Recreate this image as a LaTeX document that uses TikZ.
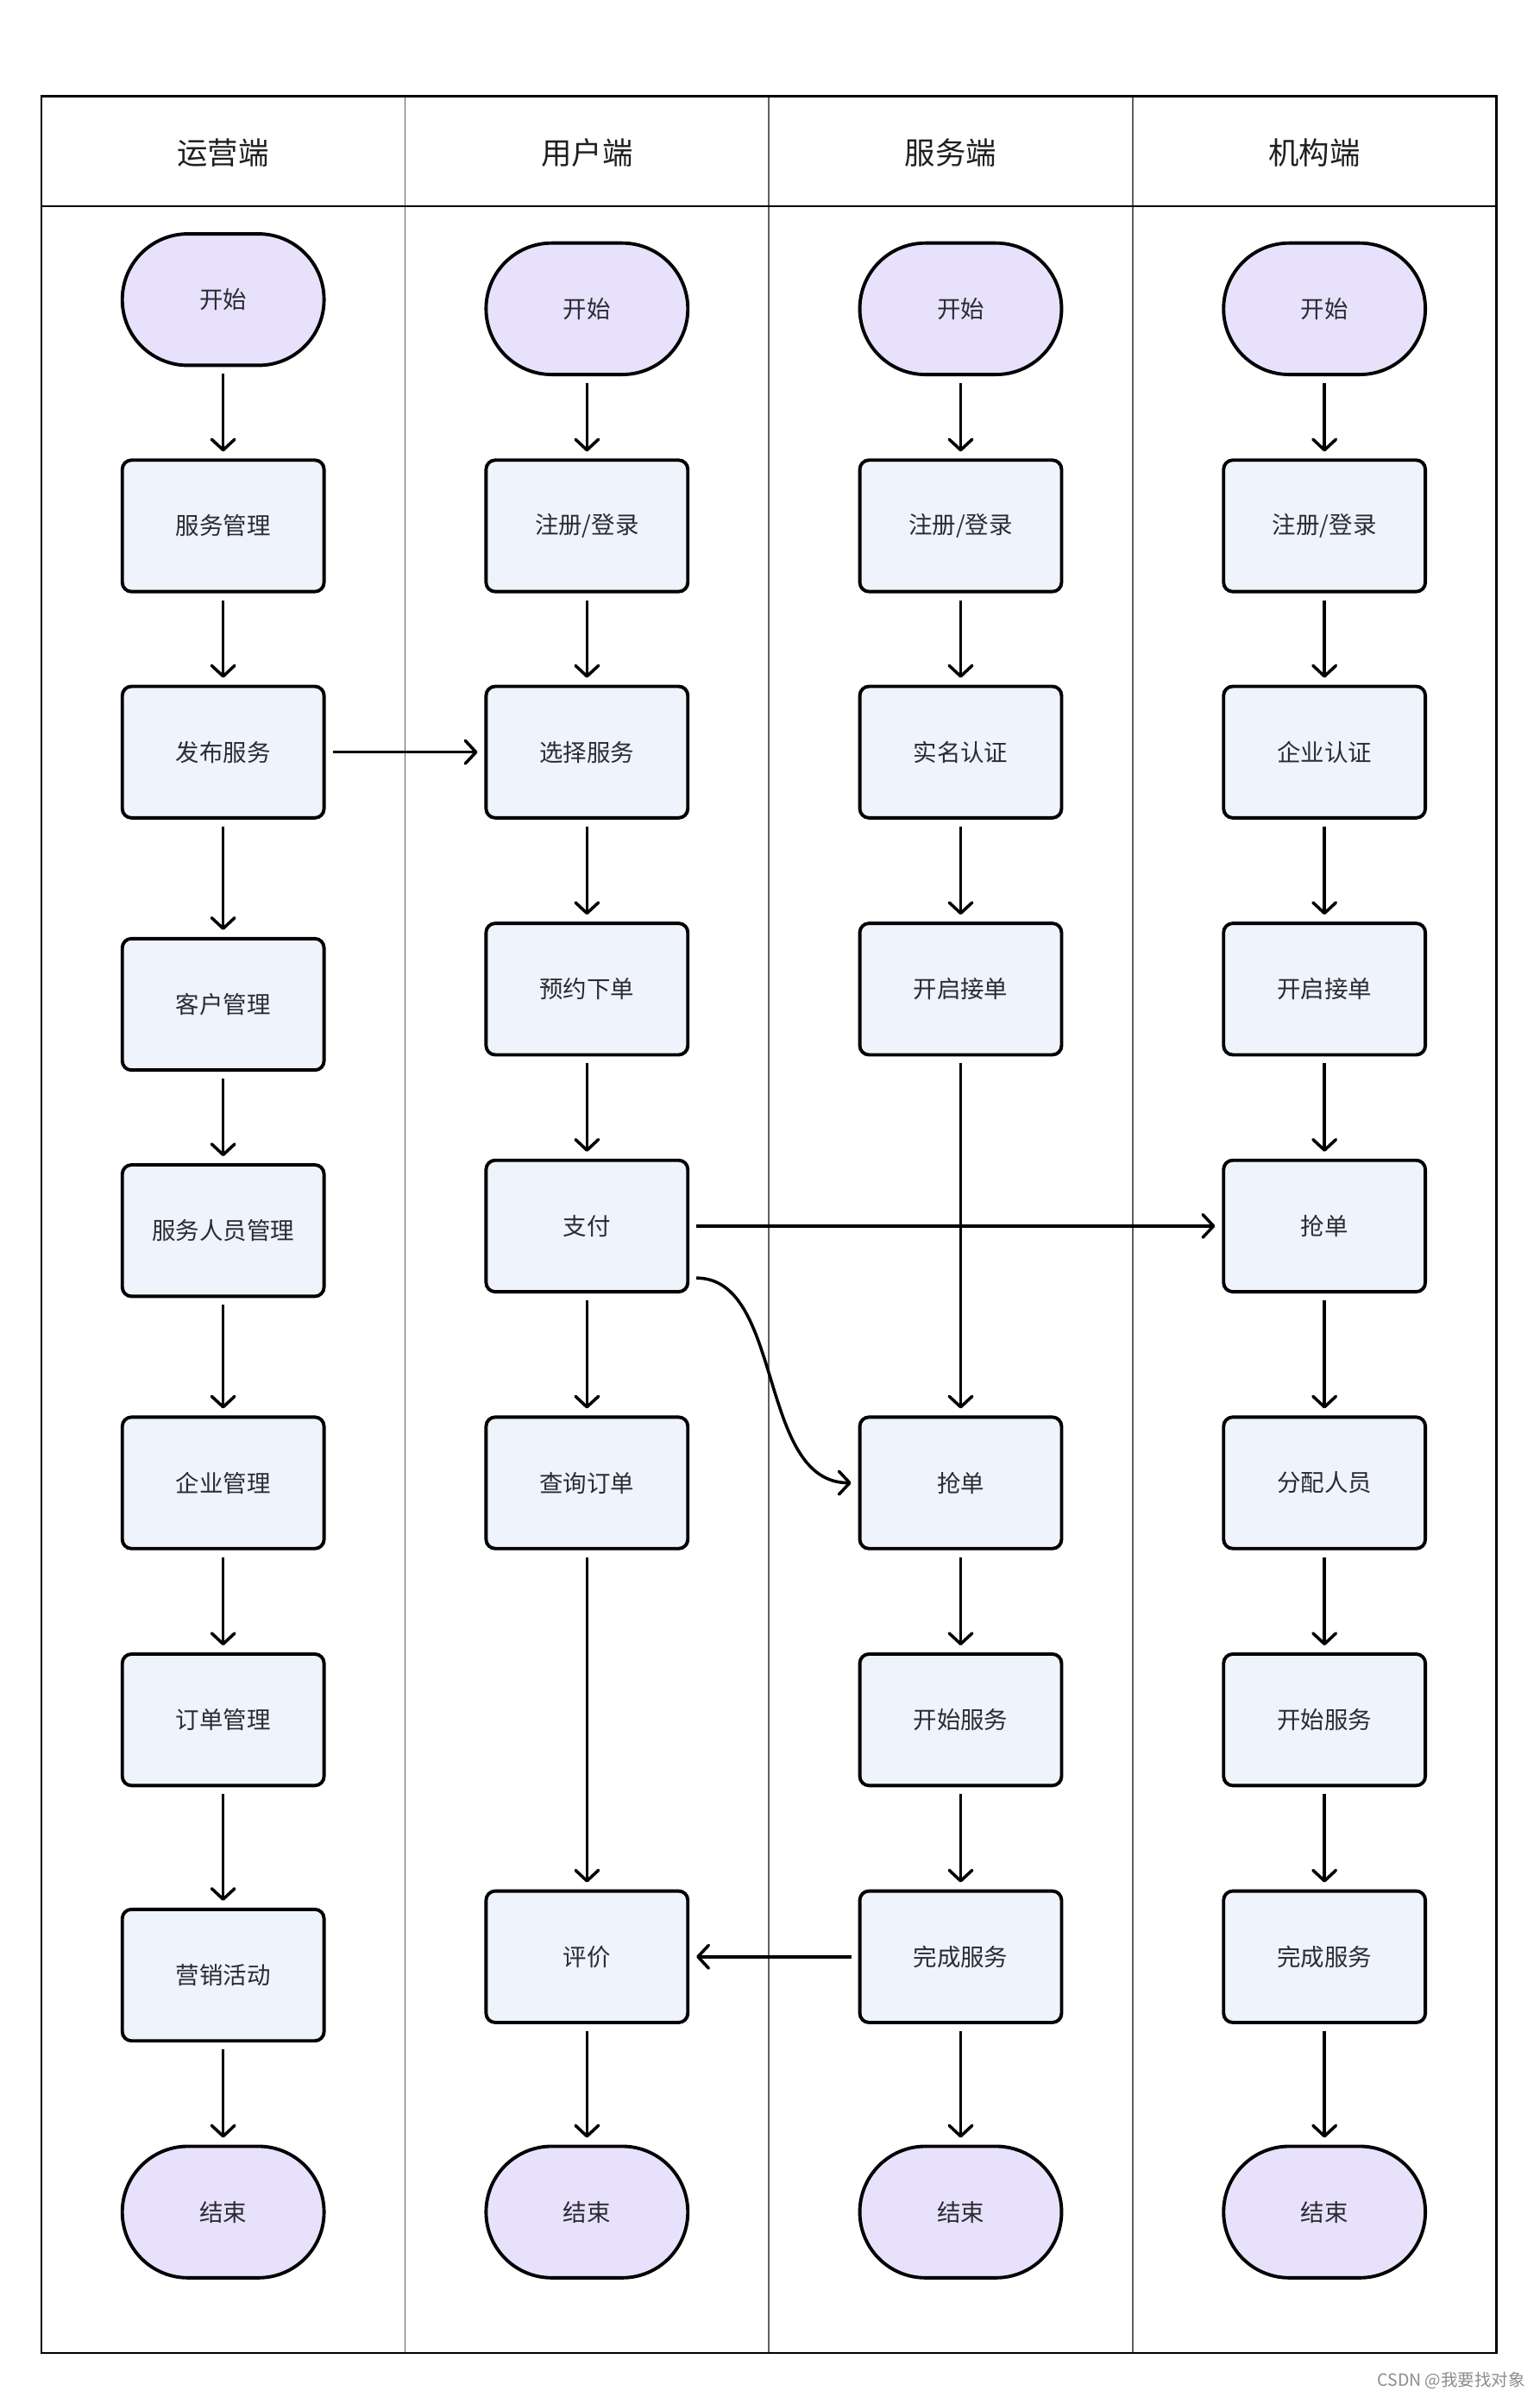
\documentclass[tikz,border=0pt]{standalone}
\usepackage{fontspec}
\newfontfamily\cjk{Noto Sans CJK SC}
\usetikzlibrary{arrows.meta}
\definecolor{termfill}{HTML}{E8E1FC}
\definecolor{boxfill}{HTML}{EEF3FC}
\definecolor{txt}{HTML}{2B2B33}
\definecolor{lanegray}{HTML}{606060}
\tikzset{
  proc/.style={draw=black, line width=2.2pt, fill=boxfill, rounded corners=6pt,
    minimum width=132pt, minimum height=86pt, inner sep=0pt, text=txt,
    font=\cjk\fontsize{15.5}{18}\selectfont},
  term/.style={proc, fill=termfill, rounded corners=42.9pt},
  lanehead/.style={inner sep=0pt, text=black!88, font=\cjk\fontsize{20}{24}\selectfont},
  arr/.style={line width=2pt, -{Straight Barb[length=7pt,width=15pt,round]},
    shorten <=4.5pt, shorten >=4.5pt},
  frame/.style={line width=1.3pt, draw=black},
  divider/.style={line width=1pt, draw=lanegray}
}
\begin{document}
\begin{tikzpicture}[x=1pt,y=-1pt]
\useasboundingbox (0,0) rectangle (1007,1568);
% frame
\draw[divider] (265,63) -- (265,1539);
\draw[divider] (503,63) -- (503,1539);
\draw[divider] (741,63) -- (741,1539);
\draw[frame] (27,63) rectangle (979,1539);
\draw[frame] (27,135) -- (979,135);
% headers
\node[lanehead] (h1) at (146,100) {运营端};
\node[lanehead] (h2) at (384,100) {用户端};
\node[lanehead] (h3) at (622,100) {服务端};
\node[lanehead] (h4) at (860,100) {机构端};
% lane 1
\node[term] (s1) at (146,196) {开始};
\node[proc] (a1) at (146,344) {服务管理};
\node[proc] (b1) at (146,492) {发布服务};
\node[proc] (c1) at (146,657) {客户管理};
\node[proc] (d1) at (146,805) {服务人员管理};
\node[proc] (e1) at (146,970) {企业管理};
\node[proc] (f1) at (146,1125) {订单管理};
\node[proc] (g1) at (146,1292) {营销活动};
\node[term] (t1) at (146,1447) {结束};
% lane 2
\node[term] (s2) at (384,202) {开始};
\node[proc] (a2) at (384,344) {注册/登录};
\node[proc] (b2) at (384,492) {选择服务};
\node[proc] (c2) at (384,647) {预约下单};
\node[proc] (d2) at (384,802) {支付};
\node[proc] (e2) at (384,970) {查询订单};
\node[proc] (f2) at (384,1280) {评价};
\node[term] (t2) at (384,1447) {结束};
% lane 3
\node[term] (s3) at (628.5,202) {开始};
\node[proc] (a3) at (628.5,344) {注册/登录};
\node[proc] (b3) at (628.5,492) {实名认证};
\node[proc] (c3) at (628.5,647) {开启接单};
\node[proc] (d3) at (628.5,970) {抢单};
\node[proc] (e3) at (628.5,1125) {开始服务};
\node[proc] (f3) at (628.5,1280) {完成服务};
\node[term] (t3) at (628.5,1447) {结束};
% lane 4
\node[term] (s4) at (866.5,202) {开始};
\node[proc] (a4) at (866.5,344) {注册/登录};
\node[proc] (b4) at (866.5,492) {企业认证};
\node[proc] (c4) at (866.5,647) {开启接单};
\node[proc] (d4) at (866.5,802) {抢单};
\node[proc] (e4) at (866.5,970) {分配人员};
\node[proc] (f4) at (866.5,1125) {开始服务};
\node[proc] (g4) at (866.5,1280) {完成服务};
\node[term] (t4) at (866.5,1447) {结束};
% vertical arrows
\foreach \u/\v in {s1/a1,a1/b1,b1/c1,c1/d1,d1/e1,e1/f1,f1/g1,g1/t1,
                   s2/a2,a2/b2,b2/c2,c2/d2,d2/e2,e2/f2,f2/t2,
                   s3/a3,a3/b3,b3/c3,c3/d3,d3/e3,e3/f3,f3/t3,
                   s4/a4,a4/b4,b4/c4,c4/d4,d4/e4,e4/f4,f4/g4,g4/t4}
  \draw[arr] (\u.south) -- (\v.north);
% cross-lane arrows
\draw[arr] (b1.east) -- (b2.west);
\draw[arr] (d2.east) -- (d4.west);
\draw[arr] ([yshift=-34pt]d2.east) .. controls +(62,0) and +(-66,0) .. (d3.west);
\draw[arr] (f3.west) -- (f2.east);
% watermark
\node[anchor=east, inner sep=0pt, text=black!45, font=\cjk\fontsize{11}{13}\selectfont] (wm) at (998,1557) {CSDN @我要找对象};
\end{tikzpicture}
\end{document}
